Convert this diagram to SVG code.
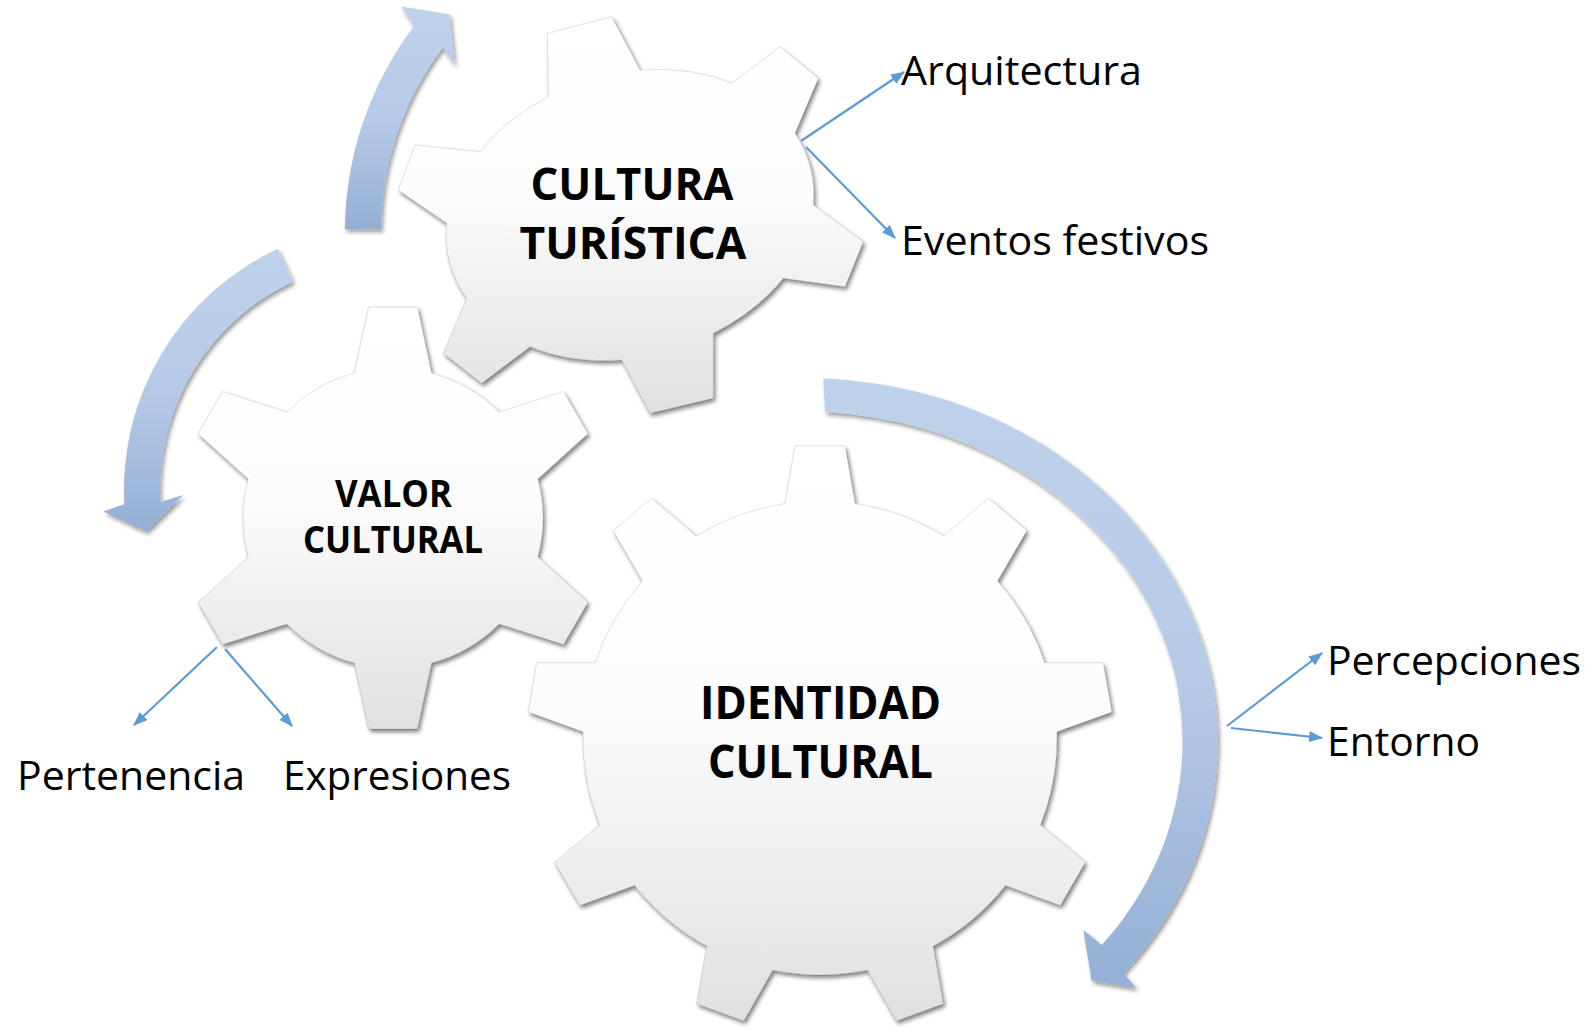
<svg xmlns="http://www.w3.org/2000/svg" width="1593" height="1031" viewBox="0 0 1593 1031">
<style>
.gear{fill:url(#gearGrad);stroke:#000;stroke-opacity:0.1;stroke-width:1;filter:url(#shadow)}
.arc{fill:url(#arrowGrad);filter:url(#ashadow)}
.conn{stroke:#5b9bd5;stroke-width:2.2;fill:none;marker-end:url(#head)}
.gt{font-family:"Open Sans","Liberation Sans",sans-serif;font-weight:bold;fill:#000;text-anchor:middle}
.lbl{font-family:"Open Sans","Liberation Sans",sans-serif;font-size:40px;fill:#000}
</style>
<defs>
<linearGradient id="gearGrad" x1="0" y1="0" x2="0" y2="1">
<stop offset="0" stop-color="#ffffff"/>
<stop offset="0.45" stop-color="#fcfcfc"/>
<stop offset="1" stop-color="#e0e0e0"/>
</linearGradient>
<linearGradient id="arrowGrad" x1="0" y1="0" x2="0" y2="1">
<stop offset="0" stop-color="#bfd2eb"/>
<stop offset="0.5" stop-color="#b6cae7"/>
<stop offset="1" stop-color="#93afd5"/>
</linearGradient>
<filter id="shadow" x="-10%" y="-10%" width="125%" height="125%">
<feGaussianBlur in="SourceAlpha" stdDeviation="2.2"/>
<feOffset dx="1.5" dy="2.5" result="b"/>
<feFlood flood-color="#000" flood-opacity="0.5"/>
<feComposite in2="b" operator="in"/>
<feMerge><feMergeNode/><feMergeNode in="SourceGraphic"/></feMerge>
</filter>
<filter id="ashadow" x="-20%" y="-20%" width="150%" height="150%">
<feGaussianBlur in="SourceAlpha" stdDeviation="2.2"/>
<feOffset dx="1.5" dy="3" result="b"/>
<feFlood flood-color="#000" flood-opacity="0.4"/>
<feComposite in2="b" operator="in"/>
<feMerge><feMergeNode/><feMergeNode in="SourceGraphic"/></feMerge>
</filter>
<marker id="head" viewBox="0 0 14 11" markerUnits="userSpaceOnUse" markerWidth="14" markerHeight="11" refX="13" refY="5.5" orient="auto">
<path d="M0,0 L14,5.5 L0,11 Z" fill="#5b9bd5"/>
</marker>
</defs>

<g id="cycle-arrows">
<path class="arc" d="M345,229 A342 342 0 0 1 413.9,26.2 L401.3,6.4 L449.6,14.5 L454.7,65.1 L442.6,47.8 A306 306 0 0 0 381,229.3 Z"/>
<path class="arc" d="M278,248.7 A266 266 0 0 0 124.4,503.9 L103.3,511.6 L146.5,531.6 L183.1,495.1 L160.3,502 A230 230 0 0 1 293.2,281.4 Z"/>
<path class="arc" d="M823.3,378.3 A414 364 0 0 1 1123.3,973.3 L1136.7,988.3 L1091.7,980.7 L1083.3,930 L1101.7,945 A380 330 0 0 0 825,412 Z"/>
</g>

<g id="gear-cultura-turistica">
<path class="gear" d="M548.3,96.7 L547.7,33.3 L611.7,16.7 L640,70 A186 142 -16 0 1 731.7,83.3 L780,46.7 L818.3,78.3 L795,133.3 A186 142 -16 0 1 813.3,205 L863.3,241.7 L845,286.7 L783.3,278.3 A186 142 -16 0 1 713.3,333.3 L713.3,398.3 L650,413.3 L621.7,360 A186 142 -16 0 1 530,346.7 L481.7,383.3 L443.3,353.3 L466.7,298.3 A186 142 -16 0 1 446.7,223.3 L398.3,190 L415,145 L480,151.7 A186 142 -16 0 1 548.3,96.7 Z"/>
<text class="gt" x="632" y="200" font-size="45" textLength="203" lengthAdjust="spacingAndGlyphs">CULTURA</text>
<text class="gt" x="633" y="259" font-size="45" textLength="227" lengthAdjust="spacingAndGlyphs">TURÍSTICA</text>
</g>

<g id="gear-valor-cultural">
<path class="gear" d="M354.4,373 L368.6,307 L417.4,307 L431.6,373 A150 150 0 0 1 499.2,412.1 L563.5,391.4 L587.9,433.7 L537.8,478.9 A150 150 0 0 1 537.8,557.1 L587.9,602.3 L563.5,644.6 L499.2,623.9 A150 150 0 0 1 431.6,663 L417.4,729 L368.6,729 L354.4,663 A150 150 0 0 1 286.8,623.9 L222.5,644.6 L198.1,602.3 L248.2,557.1 A150 150 0 0 1 248.2,478.9 L198.1,433.7 L222.5,391.4 L286.8,412.1 A150 150 0 0 1 354.4,373 Z"/>
<text class="gt" x="393.5" y="507" font-size="37" textLength="117" lengthAdjust="spacingAndGlyphs">VALOR</text>
<text class="gt" x="393" y="553" font-size="37" textLength="180" lengthAdjust="spacingAndGlyphs">CULTURAL</text>
</g>

<g id="gear-identidad-cultural">
<path class="gear" d="M785,503.6 L795,446.1 L845,446.1 L855,503.6 A237 237 0 0 1 943.8,535.9 L988.5,498.3 L1026.8,530.5 L997.5,581 A237 237 0 0 1 1044.7,662.8 L1103.2,662.7 L1111.8,712 L1056.9,731.8 A237 237 0 0 1 1040.5,824.9 L1085.3,862.3 L1060.3,905.6 L1005.5,885.5 A237 237 0 0 1 933.1,946.3 L943.4,1003.8 L896.3,1020.9 L867.3,970.2 A237 237 0 0 1 772.7,970.2 L743.7,1020.9 L696.6,1003.8 L706.9,946.3 A237 237 0 0 1 634.5,885.5 L579.7,905.6 L554.7,862.3 L599.5,824.9 A237 237 0 0 1 583.1,731.8 L528.2,712 L536.8,662.7 L595.3,662.8 A237 237 0 0 1 642.5,581 L613.2,530.5 L651.5,498.3 L696.2,535.9 A237 237 0 0 1 785,503.6 Z"/>
<text class="gt" x="820.5" y="719" font-size="47" textLength="241" lengthAdjust="spacingAndGlyphs">IDENTIDAD</text>
<text class="gt" x="820.5" y="778" font-size="47" textLength="225" lengthAdjust="spacingAndGlyphs">CULTURAL</text>
</g>

<g id="connectors">
<line class="conn" x1="801" y1="141" x2="904" y2="72"/>
<line class="conn" x1="806" y1="147" x2="895" y2="238"/>
<line class="conn" x1="217" y1="647" x2="134" y2="725"/>
<line class="conn" x1="225" y1="649" x2="292" y2="726"/>
<line class="conn" x1="1227" y1="726" x2="1322" y2="653"/>
<line class="conn" x1="1231" y1="728" x2="1322" y2="738"/>
</g>

<g id="label-arquitectura"><text class="lbl" x="901" y="85" textLength="241" lengthAdjust="spacingAndGlyphs">Arquitectura</text></g>
<g id="label-eventos"><text class="lbl" x="901" y="255" textLength="308" lengthAdjust="spacingAndGlyphs">Eventos festivos</text></g>
<g id="label-pertenencia"><text class="lbl" x="17" y="790" textLength="228" lengthAdjust="spacingAndGlyphs">Pertenencia</text></g>
<g id="label-expresiones"><text class="lbl" x="283" y="790" textLength="228" lengthAdjust="spacingAndGlyphs">Expresiones</text></g>
<g id="label-percepciones"><text class="lbl" x="1327" y="675" textLength="254" lengthAdjust="spacingAndGlyphs">Percepciones</text></g>
<g id="label-entorno"><text class="lbl" x="1327" y="756" textLength="153" lengthAdjust="spacingAndGlyphs">Entorno</text></g>
</svg>
